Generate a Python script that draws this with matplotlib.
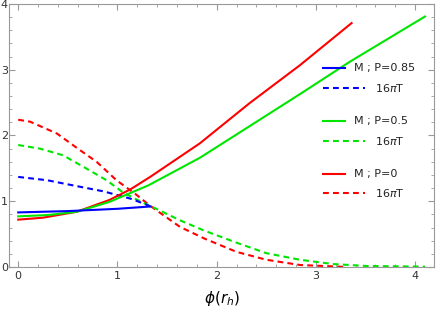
import matplotlib
matplotlib.use('Agg')
import matplotlib.pyplot as plt
from matplotlib.ticker import MultipleLocator

# M curves (solid)
x_m_p0 = [0.0, 0.25, 0.59, 0.92, 1.13, 1.33, 1.83, 2.33, 2.84, 3.36]
y_m_p0 = [0.72, 0.75, 0.84, 1.02, 1.18, 1.37, 1.88, 2.49, 3.07, 3.71]
x_m_p05 = [0.0, 0.3, 0.59, 0.92, 1.31, 1.83, 2.33, 2.84, 3.34, 4.1]
y_m_p05 = [0.77, 0.79, 0.84, 0.99, 1.24, 1.66, 2.14, 2.63, 3.12, 3.81]
x_m_p085 = [0.0, 0.5, 1.0, 1.33]
y_m_p085 = [0.83, 0.85, 0.885, 0.92]

# 16 pi T curves (dashed)
x_t_p0 = [0.0, 0.12, 0.39, 0.62, 0.79, 0.99, 1.19, 1.33, 1.63, 1.88, 2.2, 2.5, 2.84, 3.31]
y_t_p0 = [2.24, 2.21, 2.03, 1.78, 1.60, 1.32, 1.10, 0.93, 0.61, 0.43, 0.23, 0.11, 0.03, 0.0]
x_t_p05 = [0.0, 0.22, 0.45, 0.65, 0.89, 1.06, 1.24, 1.33, 1.63, 1.88, 2.2, 2.5, 2.84, 3.17, 3.51, 4.1]
y_t_p05 = [1.855, 1.80, 1.70, 1.53, 1.32, 1.13, 0.99, 0.93, 0.71, 0.55, 0.37, 0.21, 0.11, 0.045, 0.015, 0.005]
x_t_p085 = [0.0, 0.29, 0.59, 0.86, 1.13, 1.29, 1.33]
y_t_p085 = [1.37, 1.32, 1.23, 1.15, 1.04, 0.95, 0.92]

BLUE = '#0000ff'
GREEN = '#00e600'
RED = '#ff0000'
DASH = (0, (2.8, 2.0))

fig = plt.figure(figsize=(4.36, 3.09), dpi=100)
ax = fig.add_axes([0.0213, 0.136, 0.974, 0.851])

ax.plot(x_t_p0, y_t_p0, color=RED, lw=1.5, linestyle=DASH)
ax.plot(x_t_p05, y_t_p05, color=GREEN, lw=1.5, linestyle=DASH)
ax.plot(x_t_p085, y_t_p085, color=BLUE, lw=1.5, linestyle=DASH)
ax.plot(x_m_p0, y_m_p0, color=RED, lw=1.5)
ax.plot(x_m_p05, y_m_p05, color=GREEN, lw=1.5)
ax.plot(x_m_p085, y_m_p085, color=BLUE, lw=1.5)

ax.set_xlim(-0.09, 4.19)
ax.set_ylim(0, 4)

ax.xaxis.set_major_locator(MultipleLocator(1))
ax.xaxis.set_minor_locator(MultipleLocator(0.2))
ax.yaxis.set_major_locator(MultipleLocator(1))
ax.yaxis.set_minor_locator(MultipleLocator(0.2))
ax.tick_params(which='both', direction='in', top=True, right=True,
               color='#999999', labelsize=8, labelcolor='#333333')
ax.tick_params(which='major', length=4, width=0.8)
ax.tick_params(which='minor', length=2.5, width=0.6)
ax.tick_params(axis='y', pad=1)
ax.tick_params(axis='x', pad=3)
ax.tick_params(labelright=False, labeltop=False)
for s in ax.spines.values():
    s.set_color('#999999')
    s.set_linewidth(0.8)

ax.set_xlabel(r'$\phi(r_h)$', fontsize=11, labelpad=6)

# legend drawn by hand to mimic the layout
entries = [
    (0.755, BLUE, '-', 'M ; P=0.85'),
    (0.680, BLUE, DASH, r'16$\pi$T'),
    (0.555, GREEN, '-', 'M ; P=0.5'),
    (0.480, GREEN, DASH, r'16$\pi$T'),
    (0.355, RED, '-', 'M ; P=0'),
    (0.280, RED, DASH, r'16$\pi$T'),
]
for yy, col, ls, lab in entries:
    if ls == '-':
        ax.plot([0.738, 0.790], [yy, yy], color=col, lw=1.5, transform=ax.transAxes)
        ax.text(0.812, yy, lab, transform=ax.transAxes, va='center', ha='left',
                fontsize=8, color='#222222')
    else:
        ax.plot([0.738, 0.838], [yy, yy], color=col, lw=1.5, linestyle=DASH,
                transform=ax.transAxes)
        ax.text(0.862, yy, lab, transform=ax.transAxes, va='center', ha='left',
                fontsize=8, color='#222222')

fig.savefig('out.png', dpi=100)
